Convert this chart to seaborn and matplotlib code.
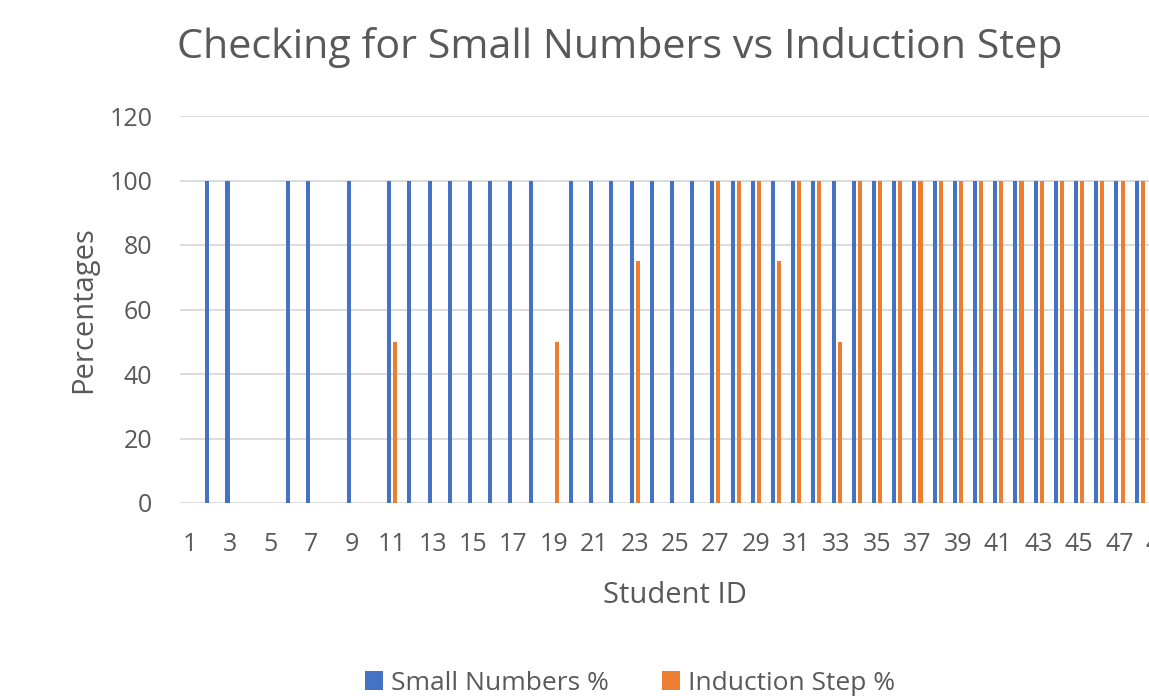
import pandas as pd
import seaborn as sns
import matplotlib.pyplot as plt

# Student IDs 1..49 (49 is cut off at the right edge of the picture)
student_ids = list(range(1, 50))

small_numbers = [
    0, 100, 100, 0, 0, 100, 100, 0, 100, 0,          # 1-10
    100, 100, 100, 100, 100, 100, 100, 100, 0, 100,  # 11-20
    100, 100, 100, 100, 100, 100, 100, 100, 100, 100,  # 21-30
    100, 100, 100, 100, 100, 100, 100, 100, 100, 100,  # 31-40
    100, 100, 100, 100, 100, 100, 100, 100, 100,     # 41-49
]
induction_step = [
    0, 0, 0, 0, 0, 0, 0, 0, 0, 0,                    # 1-10
    50, 0, 0, 0, 0, 0, 0, 0, 50, 0,                  # 11-20
    0, 0, 75, 0, 0, 0, 100, 100, 100, 75,            # 21-30
    100, 100, 50, 100, 100, 100, 100, 100, 100, 100,  # 31-40
    100, 100, 100, 100, 100, 100, 100, 100, 100,     # 41-49
]

series_names = ["Small Numbers %", "Induction Step %"]
series_colors = ["#4472C4", "#ED7D31"]

df = pd.DataFrame({
    "Student ID": student_ids * 2,
    "Percentages": small_numbers + induction_step,
    "Series": [series_names[0]] * len(student_ids) + [series_names[1]] * len(student_ids),
})

sns.set_theme(style="white")
plt.rcParams['font.family'] = ['Open Sans', 'DejaVu Sans']
text_color = "#595959"

fig = plt.figure(figsize=(11.49, 6.96), dpi=100)
# axes run past the right edge, like the cropped screenshot
ax = fig.add_axes([180 / 1149, (696 - 503) / 696, 990 / 1149, 387 / 696])

sns.barplot(
    data=df,
    x="Student ID",
    y="Percentages",
    hue="Series",
    hue_order=series_names,
    palette=series_colors,
    width=0.6,
    gap=1 / 3,
    linewidth=0,
    saturation=1,
    ax=ax,
    legend=True,
)

ax.set_ylim(0, 120)
ax.set_xlim(-0.5, len(student_ids) - 0.5)
ax.set_yticks(range(0, 121, 20))
ax.set_xticks(range(0, len(student_ids), 2))
ax.set_xticklabels([str(s) for s in student_ids[::2]])
ax.yaxis.grid(True, color="#d9d9d9", linewidth=1.3)
ax.set_axisbelow(True)
sns.despine(ax=ax, left=True, bottom=True, right=True, top=True)
ax.tick_params(axis="both", length=0, labelsize=18, colors=text_color)
ax.tick_params(axis="y", pad=20)
ax.tick_params(axis="x", pad=21)

ax.set_xlabel("Student ID", fontsize=21, color=text_color, labelpad=17)
ax.set_ylabel("Percentages", fontsize=21, color=text_color, labelpad=8)

fig.text(620 / 1149, (696 - 58) / 696, "Checking for Small Numbers vs Induction Step",
         ha="center", va="baseline", fontsize=29.7, color=text_color)

handles, labels = ax.get_legend_handles_labels()
ax.get_legend().remove()
fig.legend(handles, labels, loc="center", bbox_to_anchor=(630 / 1149, (696 - 683) / 696),
           ncol=2, frameon=False, fontsize=19, labelcolor=text_color,
           handlelength=0.7, handleheight=0.7, handletextpad=0.3, columnspacing=2.0)

plt.savefig("out.png", dpi=100)
